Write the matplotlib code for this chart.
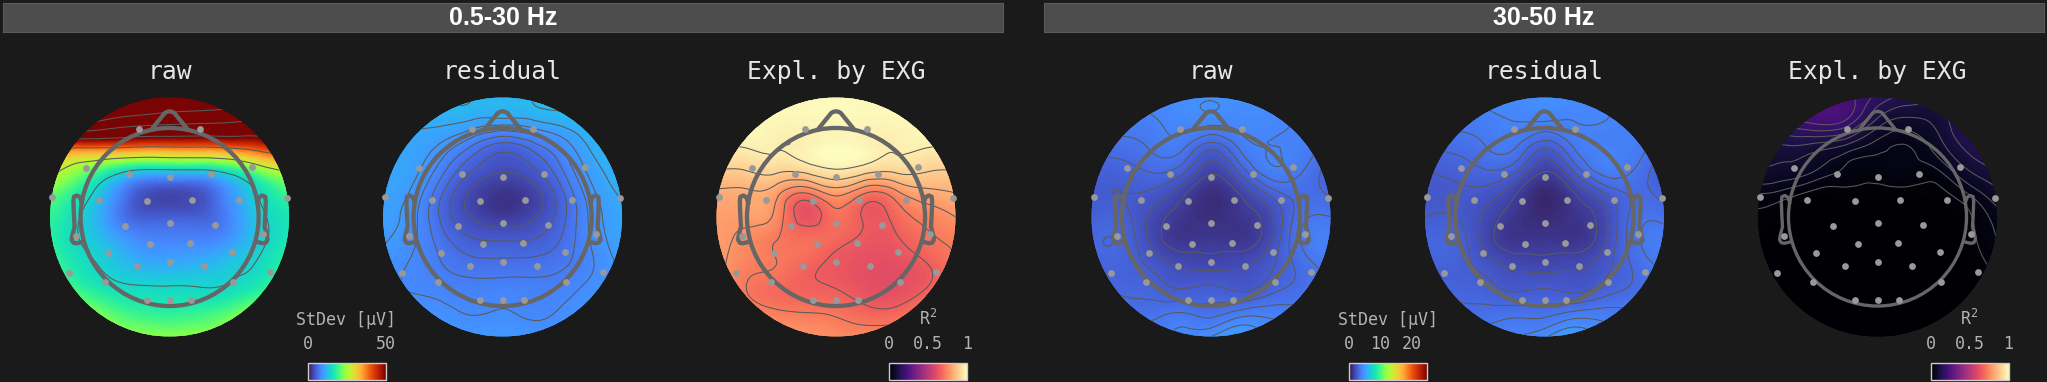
import matplotlib
matplotlib.use('Agg')
import matplotlib.pyplot as plt
import matplotlib.tri as mtri
from matplotlib.cm import ScalarMappable
from matplotlib.colors import Normalize
from matplotlib.patches import Circle
import numpy as np

W, H = 2047, 382
BG = '#1a1a1a'
LINE = '#666666'

# field samples, rows v=1..-1 (step .2), columns u=-1..1 (step .25), disc coordinates
raw_low = [
    [105, 105, 100, 95, 90, 88, 86, 85, 85],
    [80, 78, 72, 68, 66, 65, 64, 62, 60],
    [43, 42, 42, 41, 41, 41, 42, 44, 46],
    [29, 24, 19, 15.5, 15.5, 15.5, 18, 24, 29],
    [22, 17.5, 11, 5, 3.8, 4.6, 9.5, 15.5, 20],
    [19, 15, 9.5, 5.5, 5.5, 5.5, 8.5, 14, 17],
    [18.5, 15, 12, 9, 8.5, 8.5, 10, 14, 17],
    [20, 16.5, 14, 12, 11.5, 12, 13.5, 15.5, 19],
    [22, 19, 16.5, 15.5, 15.4, 15.2, 15.7, 18, 21],
    [26, 24, 21, 19, 18.5, 19, 21, 24, 26],
    [28, 27, 25, 24, 23.5, 24, 25, 27, 28],
]
residual_low = [
    [12.6, 12.6, 12.6, 12.4, 12, 12.4, 13, 13.2, 13.2],
    [11.5, 11.5, 11.5, 11, 10.7, 11, 11.7, 12.4, 12.6],
    [11, 10.8, 9.7, 7.6, 6, 7.1, 9.2, 11.5, 12.4],
    [10.8, 10.4, 8, 5.3, 4.2, 5, 7.6, 10.6, 12],
    [10.6, 9.7, 6.4, 3.7, 2.4, 3.4, 6.2, 9.7, 11.4],
    [10.4, 9.2, 6, 3.9, 3, 3.8, 6, 9.2, 11],
    [10.1, 9, 6.9, 5.4, 5.2, 5.3, 6.6, 9, 10.8],
    [9.5, 8.6, 7.6, 6.9, 6.8, 6.9, 7.4, 8.7, 10.4],
    [9, 8.7, 8.3, 8, 8.2, 8, 8.3, 9.2, 9.9],
    [9.4, 9.4, 9.2, 8.7, 8.9, 8.5, 9, 9.7, 10.1],
    [10.1, 10.1, 10.1, 9.9, 9.9, 9.8, 9.7, 10.1, 10.4],
]
expl_low = [
    [.99, .99, .99, .99, .99, .99, .99, .99, .99],
    [.985, .985, .985, .985, .99, .985, .985, .985, .985],
    [.97, .97, .97, .975, .995, .98, .97, .97, .97],
    [.905, .905, .92, .93, .965, .935, .92, .91, .905],
    [.83, .83, .8, .72, .8, .72, .76, .82, .84],
    [.8, .8, .76, .63, .7, .65, .68, .74, .78],
    [.8, .76, .72, .7, .68, .645, .65, .7, .73],
    [.8, .74, .72, .68, .645, .62, .62, .655, .72],
    [.8, .72, .69, .67, .66, .63, .62, .66, .72],
    [.8, .76, .73, .72, .71, .68, .68, .73, .78],
    [.82, .82, .8, .78, .76, .76, .77, .78, .8],
]
raw_high = [
    [4.4, 4.4, 4.4, 4.5, 4.55, 4.5, 4.3, 4, 3.9],
    [3.9, 3.9, 4, 4.3, 4.3, 4.3, 4.3, 4, 3.7],
    [3.3, 3.4, 3.7, 3.8, 2.9, 3.8, 4.1, 4, 3.3],
    [2.8, 2.9, 3.2, 2.9, 1.8, 2.9, 4, 3.7, 2.8],
    [2.6, 2.6, 2.5, 1.8, 1, 1.7, 2.8, 3.3, 3],
    [2.8, 2.8, 2, 1.3, 1, 1.25, 2, 3.4, 3.6],
    [3, 3, 2, 1.3, 1.35, 1.3, 2.1, 3.6, 4],
    [2.9, 2.9, 2.5, 2, 1.9, 2, 2.5, 3.3, 3.8],
    [3, 3, 2.9, 2.6, 2.7, 2.5, 2.9, 3.3, 3.6],
    [3.3, 3.4, 3.4, 3.6, 3.4, 3.8, 3.9, 3.8, 3.7],
    [3.8, 3.8, 4, 4.3, 4.6, 5.3, 4.5, 4, 3.8],
]
residual_high = [
    [4.3, 4.3, 4.3, 4.4, 4.5, 4.4, 4.1, 3.9, 3.8],
    [3.8, 3.8, 3.9, 4.1, 4.1, 4.1, 4.1, 3.9, 3.6],
    [3.2, 3.3, 3.6, 3.7, 2.8, 3.7, 4, 3.9, 3.2],
    [2.6, 2.8, 3.1, 2.8, 1.7, 2.8, 3.9, 3.6, 2.6],
    [2.5, 2.5, 2.4, 1.7, .8, 1.6, 2.6, 3.2, 2.9],
    [2.6, 2.6, 2, 1.25, .9, 1.2, 1.95, 3.3, 3.4],
    [2.9, 2.9, 1.95, 1.25, 1.3, 1.25, 2, 3.4, 3.9],
    [2.8, 2.8, 2.4, 1.95, 1.85, 1.95, 2.4, 3.2, 3.7],
    [2.9, 2.9, 2.8, 2.5, 2.6, 2.45, 2.8, 3.2, 3.4],
    [3.2, 3.3, 3.3, 3.4, 3.4, 3.7, 3.8, 3.7, 3.6],
    [3.7, 3.7, 3.9, 4.1, 4.5, 5.2, 4.4, 3.9, 3.7],
]
expl_high = [
    [.24, .24, .24, .22, .17, .14, .13, .13, .13],
    [.19, .2, .22, .2, .11, .08, .1, .15, .16],
    [.12, .12, .11, .085, .05, .04, .075, .13, .15],
    [.09, .08, .06, .035, .03, .035, .04, .09, .12],
    [.04, .03, .012, .014, .012, .012, .012, .04, .08],
    [.015, .005, 0, 0, 0, 0, 0, .015, .05],
    [.005, 0, 0, 0, 0, 0, 0, .012, .04],
    [0, 0, 0, 0, 0, 0, 0, .005, .03],
    [0, 0, 0, 0, 0, 0, 0, 0, .01],
    [0, 0, 0, 0, 0, 0, 0, 0, 0],
    [0, 0, 0, 0, 0, 0, 0, 0, 0],
]

# electrode positions, disc coordinates
sensor_u = [-.258, .258, -.700, -.341, 0, .348, .689, -.983, -.588, -.189, .189, .584, .983,
            -.784, -.374, 0, .384, .784, -.163, .174, -.515, .519, -.838, -.272, 0, .287, .838,
            -.540, .534, -.189, 0, .181]
sensor_v = [.734, .734, .413, .357, .338, .362, .416, .165, .139, .137, .139, .142, .162,
            -.162, -.073, -.047, -.070, -.145, -.226, -.220, -.301, -.296, -.468, -.413, -.377, -.410, -.463,
            -.544, -.544, -.691, -.691, -.691]

# head outline, disc coordinates
nose_u = [-.148, -.04, -.022, 0, .022, .04, .148]
nose_v = [.737, .87, .88, .885, .88, .87, .737]
ear_u = [-.735, -.75, -.775, -.8, -.805, -.8, -.795, -.815, -.82, -.805, -.78, -.735]
ear_v = [.12, .165, .18, .17, .13, .0, -.08, -.16, -.19, -.215, -.22, -.21]

panel_titles = ['raw', 'residual', 'Expl. by EXG', 'raw', 'residual', 'Expl. by EXG']
panel_data = [raw_low, residual_low, expl_low, raw_high, residual_high, expl_high]
panel_cx = [169.6, 502.6, 836, 1211, 1544.5, 1877.5]
panel_cmap = ['turbo', 'turbo', 'magma', 'turbo', 'turbo', 'magma']
panel_vmax = [50, 50, 1, 25, 25, 1]
panel_lw = [3.1, 3.1, 3.1, 3.1, 3.1, 2.4]
panel_levels = [
    [15, 27, 39, 51, 63, 75],
    [4, 5.2, 6.4, 7.6, 8.8, 10, 11.2, 12.4],
    [.66, .72, .78, .84, .9, .965],
    [1.6, 2.1, 2.6, 3.1, 3.6, 4.1, 4.6, 5.1],
    [1.6, 2.1, 2.6, 3.1, 3.6, 4.1, 4.6, 5.1],
    [.02, .04, .06, .09, .12, .15, .18, .21],
]

band_names = ['0.5-30 Hz', '30-50 Hz']
band_x0 = [3, 1044]
band_x1 = [1002.6, 2043.6]

cbar_x0 = [307.5, 888.6, 1349, 1930.5]
cbar_label = ['StDev [µV]', 'R$^{2}$', 'StDev [µV]', 'R$^{2}$']
cbar_cmap = ['turbo', 'magma', 'turbo', 'magma']
cbar_vmax = [50, 1, 25, 1]
cbar_ticks = [[0, 50], [0, .5, 1], [0, 10, 20], [0, .5, 1]]
cbar_ticklabels = [['0', '50'], ['0', '0.5', '1'], ['0', '10', '20'], ['0', '0.5', '1']]

R = 119.5
CY = 217
MONO = 'DejaVu Sans Mono'
plt.rcParams['mathtext.default'] = 'regular'


def px_axes(fig, x0, y0, x1, y1):
    # pixel box, y from the top
    return fig.add_axes([x0 / W, 1 - y1 / H, (x1 - x0) / W, (y1 - y0) / H])


def draw_topo(fig, cx, values, cmap, vmax, levels, head_lw, title):
    pad = 1.06
    ax = px_axes(fig, cx - pad * R, CY - pad * R, cx + pad * R, CY + pad * R)
    ax.set_xlim(-pad, pad)
    ax.set_ylim(-pad, pad)
    ax.axis('off')

    uu, vv = np.meshgrid(np.linspace(-1, 1, 9), np.linspace(1, -1, 11))
    tri = mtri.Triangulation(uu.ravel(), vv.ravel())
    z = np.asarray(values, dtype=float).ravel()
    interp = mtri.CubicTriInterpolator(tri, z, kind='min_E')
    tri_fine, z_fine = mtri.UniformTriRefiner(tri).refine_field(z, interp, subdiv=4)

    disc = Circle((0, 0), 1, transform=ax.transData)
    mesh = ax.tripcolor(tri_fine, z_fine, shading='gouraud', cmap=cmap, vmin=0, vmax=vmax)
    mesh.set_clip_path(disc)
    cs = ax.tricontour(tri_fine, z_fine, levels=levels, colors='#5a5a5a', linewidths=0.75)
    cs.set_clip_path(disc)

    ax.add_patch(Circle((0, 0), .745, fill=False, ec=LINE, lw=head_lw, zorder=4))
    ax.plot(nose_u, nose_v, color=LINE, lw=head_lw, zorder=4, solid_joinstyle='round')
    for side in (1, -1):
        ax.plot(side * np.array(ear_u), ear_v, color=LINE, lw=head_lw, zorder=4,
                solid_joinstyle='round')
    ax.scatter(sensor_u, sensor_v, s=24, color='#999999', linewidths=0, zorder=5)

    fig.text(cx / W, 1 - 72 / H, title, color='#e6e6e6', family=MONO, fontsize=17.7,
             ha='center', va='center')


def draw_cbar(fig, x0, label, cmap, vmax, ticks, ticklabels):
    cax = px_axes(fig, x0, 362.5, x0 + 78, 379.5)
    cb = fig.colorbar(ScalarMappable(Normalize(0, vmax), cmap), cax=cax, orientation='horizontal')
    cb.set_ticks(ticks, labels=ticklabels)
    cb.outline.set_edgecolor('#cccccc')
    cb.outline.set_linewidth(1)
    cax.xaxis.set_ticks_position('top')
    cax.tick_params(length=0, pad=7, labelcolor='#b3b3b3', labelsize=12)
    for t in cax.get_xticklabels():
        t.set_family(MONO)
    cax.xaxis.set_label_position('top')
    cax.set_xlabel(label, color='#b3b3b3', family=MONO, fontsize=12, labelpad=7)


fig = plt.figure(figsize=(W / 100, H / 100), dpi=100, facecolor=BG)

for name, x0, x1 in zip(band_names, band_x0, band_x1):
    ax = px_axes(fig, x0, 3, x1, 32)
    ax.set_facecolor('#4d4d4d')
    ax.set_xticks([])
    ax.set_yticks([])
    for s in ax.spines.values():
        s.set_color('#5a5a5a')
    ax.text(.5, .47, name, transform=ax.transAxes, color='white', family='Liberation Sans',
            weight='bold', fontsize=18, ha='center', va='center')

for i in range(6):
    draw_topo(fig, panel_cx[i], panel_data[i], panel_cmap[i], panel_vmax[i],
              panel_levels[i], panel_lw[i], panel_titles[i])

for i in range(4):
    draw_cbar(fig, cbar_x0[i], cbar_label[i], cbar_cmap[i], cbar_vmax[i],
              cbar_ticks[i], cbar_ticklabels[i])

fig.savefig('out.png', dpi=100, facecolor=BG)
